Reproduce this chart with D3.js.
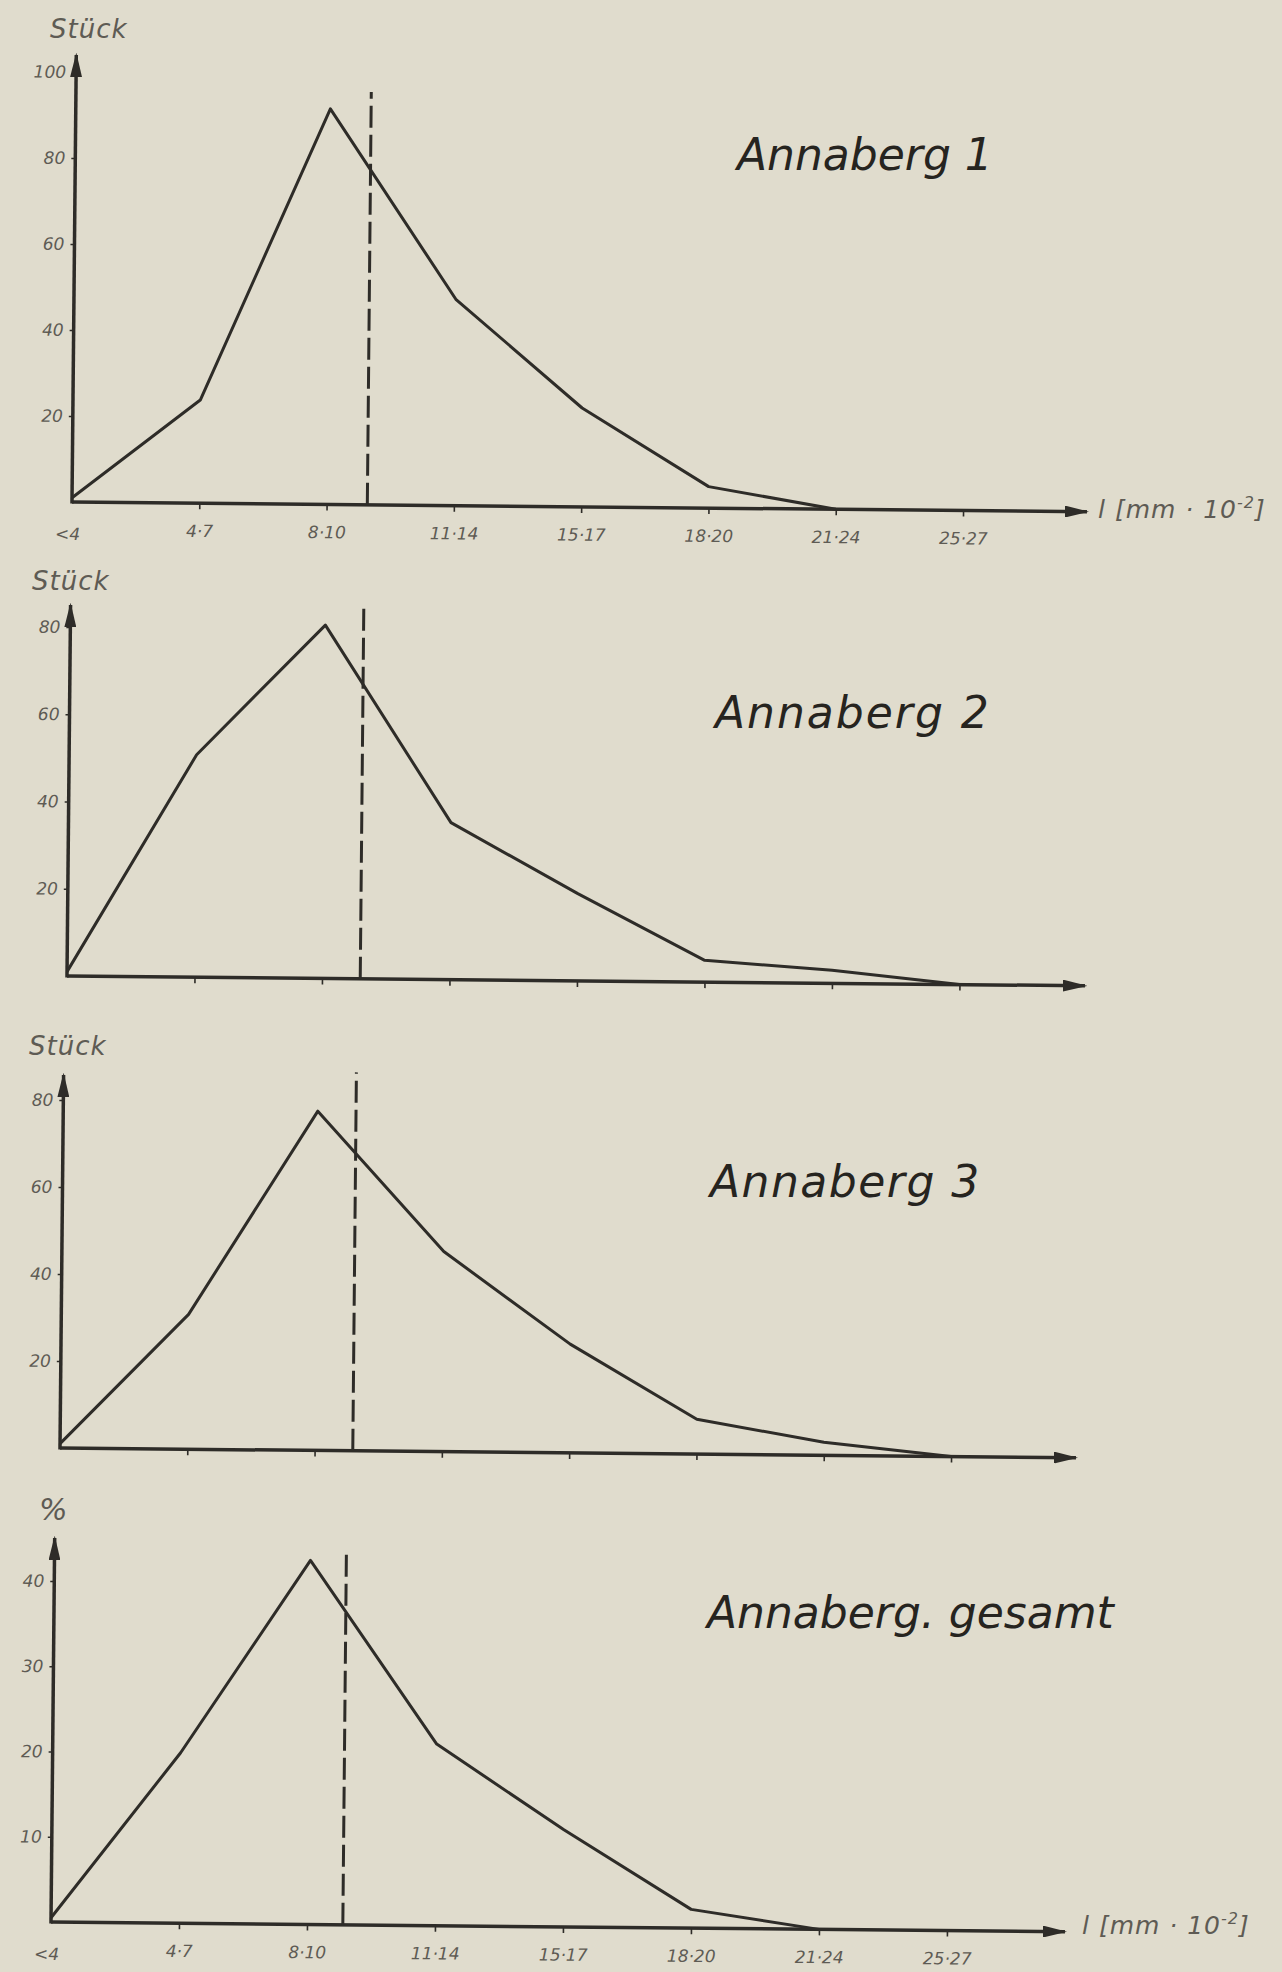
<!DOCTYPE html>
<meta charset="utf-8">
<script src="https://d3js.org/d3.v7.min.js"></script>
<title>Annaberg</title>

<div id="my_dataviz"></div>

<style>
    body { margin: 0; background: #e0dccd; }
    #my_dataviz text { font-family: "DejaVu Sans", sans-serif; font-style: italic; }
</style>

<script>
    // data
    const categories = ["<4", "4·7", "8·10", "11·14", "15·17", "18·20", "21·24", "25·27"];
    const annaberg1 = [1, 24, 92, 48, 23, 5, 0, null];
    const annaberg2 = [1, 51, 81, 36, 20, 5, 3, 0];
    const annaberg3 = [1, 31, 78, 46, 25, 8, 3, 0];
    const annabergGesamt = [0.5, 20, 42.7, 21.3, 11.4, 2.2, 0, null];

    const ticksStueck100 = [20, 40, 60, 80, 100];
    const ticksStueck80 = [20, 40, 60, 80];
    const ticksPercent = [10, 20, 30, 40];

    // dashed marker: position on the class axis and how high it goes
    const meanPos = [2.32, 2.30, 2.30, 2.28];
    const meanTop = [96, 86, 87, 43.4];

    const titles = ["Annaberg 1", "Annaberg 2", "Annaberg 3", "Annaberg. gesamt"];
    const yUnits = ["Stück", "Stück", "Stück", "%"];

    const width = 1282, height = 1972;
    const ink = "#2e2c28", faint = "#5e5b54";
    const tilt = 0.55; // the scanned axes are drawn slightly askew

    const svg = d3.select("#my_dataviz")
        .append("svg")
        .attr("width", width)
        .attr("height", height)
        .style("background", "#e0dccd");

    const defs = svg.append("defs");
    defs.append("marker")
        .attr("id", "arrow")
        .attr("viewBox", "0 0 10 10")
        .attr("refX", 9).attr("refY", 5)
        .attr("markerWidth", 7).attr("markerHeight", 3.4)
        .attr("markerUnits", "strokeWidth")
        .attr("orient", "auto")
        .attr("preserveAspectRatio", "none")
        .append("path")
        .attr("d", "M0,0 L10,5 L0,10 Z")
        .attr("fill", ink);

    const panels = [
        {series: annaberg1, ticks: ticksStueck100, yMax: 100, ox: 72, oy: 502, step: 127.3, yTop: 72, xEnd: 1087, yTip: 55, labels: true, title: [737, 170], spacing: 0, unit: [50, 38], axisLabel: [1098, 518]},
        {series: annaberg2, ticks: ticksStueck80, yMax: 80, ox: 67, oy: 976, step: 127.5, yTop: 627, xEnd: 1085, yTip: 605, labels: false, title: [715, 728], spacing: 2, unit: [32, 590]},
        {series: annaberg3, ticks: ticksStueck80, yMax: 80, ox: 60, oy: 1448, step: 127.3, yTop: 1100, xEnd: 1076, yTip: 1075, labels: false, title: [710, 1197], spacing: 1.5, unit: [29, 1055]},
        {series: annabergGesamt, ticks: ticksPercent, yMax: 40, ox: 51, oy: 1922, step: 128, yTop: 1581, xEnd: 1065, yTip: 1538, labels: true, title: [707, 1628], spacing: 0, unit: [39, 1520], axisLabel: [1082, 1934]}
    ];

    panels.forEach(function(p, k) {
        const g = svg.append("g")
            .attr("transform", `translate(${p.ox},${p.oy}) rotate(${tilt})`);

        const x = d3.scaleLinear().domain([0, 7]).range([0, 7 * p.step]);
        const y = d3.scaleLinear().domain([0, p.yMax]).range([0, p.yTop - p.oy]);

        // x ticks (labels only on first and last panel)
        const xAxis = g.append("g")
            .call(d3.axisBottom(x)
                .tickValues(d3.range(1, 8))
                .tickSize(6)
                .tickFormat(i => p.labels ? categories[i] : ""));
        xAxis.select(".domain").remove();
        xAxis.selectAll("line").attr("stroke", ink).attr("stroke-width", 1.6);
        if (p.labels) {
            g.append("text")
                .attr("x", x(0) - 4).attr("y", 38)
                .attr("text-anchor", "middle")
                .attr("fill", faint)
                .style("font-size", "17px")
                .text(categories[0]);
        }
        xAxis.selectAll("text")
            .attr("y", 27)
            .attr("dy", "0.4em")
            .attr("fill", faint)
            .style("font-size", "17px")
            .style("font-family", "DejaVu Sans")
            .style("font-style", "italic");

        // y ticks
        const yAxis = g.append("g")
            .call(d3.axisLeft(y).tickValues(p.ticks).tickSize(4).tickPadding(6));
        yAxis.select(".domain").remove();
        yAxis.selectAll("line").attr("stroke", ink).attr("stroke-width", 1.4);
        yAxis.selectAll("text")
            .attr("fill", faint)
            .style("font-size", "17px")
            .style("font-family", "DejaVu Sans")
            .style("font-style", "italic");

        // axes with arrows
        g.append("line")
            .attr("x1", 0).attr("y1", 0)
            .attr("x2", p.xEnd - p.ox).attr("y2", 0)
            .attr("stroke", ink).attr("stroke-width", 3.5)
            .attr("marker-end", "url(#arrow)");
        g.append("line")
            .attr("x1", 0).attr("y1", 1.5)
            .attr("x2", 0).attr("y2", p.yTip - p.oy)
            .attr("stroke", ink).attr("stroke-width", 3.5)
            .attr("marker-end", "url(#arrow)");

        // dashed marker
        g.append("line")
            .attr("x1", x(meanPos[k])).attr("y1", 0)
            .attr("x2", x(meanPos[k])).attr("y2", y(meanTop[k]))
            .attr("stroke", ink).attr("stroke-width", 3)
            .attr("stroke-dasharray", "22,7");

        // the frequency polygon
        const line = d3.line()
            .defined(d => d != null)
            .x((d, i) => x(i))
            .y(d => y(d));
        g.append("path")
            .datum(p.series)
            .attr("fill", "none")
            .attr("stroke", ink)
            .attr("stroke-width", 3)
            .attr("stroke-linejoin", "round")
            .attr("d", line);

        // unit above the y axis
        svg.append("text")
            .attr("x", p.unit[0]).attr("y", p.unit[1])
            .attr("fill", faint)
            .style("font-size", k == 3 ? "30px" : "26px")
            .style("letter-spacing", "1px")
            .text(yUnits[k]);

        // panel title
        svg.append("text")
            .attr("x", p.title[0]).attr("y", p.title[1])
            .attr("fill", "#26241f")
            .style("font-size", "44px")
            .style("letter-spacing", p.spacing + "px")
            .text(titles[k]);

        if (p.axisLabel) {
            const t = svg.append("text")
                .attr("x", p.axisLabel[0]).attr("y", p.axisLabel[1])
                .attr("fill", faint)
                .style("font-size", "25px")
                .style("letter-spacing", "1px");
            t.append("tspan").text("l [mm · 10");
            t.append("tspan").attr("dy", -10).style("font-size", "16px").text("-2");
            t.append("tspan").attr("dy", 10).text("]");
        }
    });
</script>
